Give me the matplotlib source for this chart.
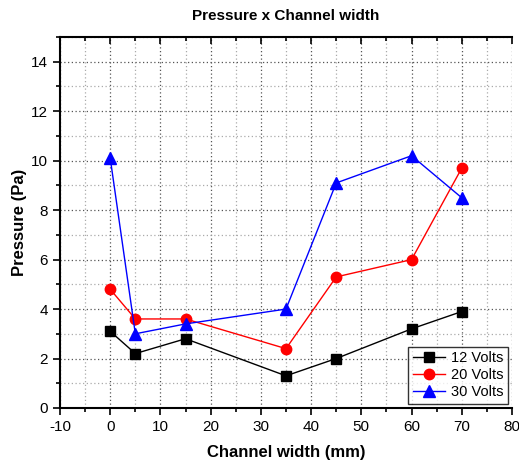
import matplotlib
matplotlib.use("Agg")
import matplotlib.pyplot as plt
from matplotlib.ticker import MultipleLocator

x = [0, 5, 15, 35, 45, 60, 70]
v12 = [3.1, 2.2, 2.8, 1.3, 2.0, 3.2, 3.9]
v20 = [4.8, 3.6, 3.6, 2.4, 5.3, 6.0, 9.7]
v30 = [10.1, 3.0, 3.4, 4.0, 9.1, 10.2, 8.5]
labels = ["12 Volts", "20 Volts", "30 Volts"]

plt.rcParams['font.family'] = ['Liberation Sans', 'DejaVu Sans']
plt.rcParams['axes.unicode_minus'] = False

fig = plt.figure(figsize=(5.19, 4.65), dpi=100)
ax = fig.add_axes([0.1156, 0.1226, 0.8709, 0.7978])

ax.plot(x, v12, color='black', marker='s', markersize=6.5, lw=1, label=labels[0], zorder=3)
ax.plot(x, v20, color='red', marker='o', markersize=7.5, lw=1, label=labels[1], zorder=3)
ax.plot(x, v30, color='blue', marker='^', markersize=8, lw=1, label=labels[2], zorder=3)

ax.set_xlim(-10, 80)
ax.set_ylim(0, 15)
ax.xaxis.set_major_locator(MultipleLocator(10))
ax.xaxis.set_minor_locator(MultipleLocator(5))
ax.yaxis.set_major_locator(MultipleLocator(2))
ax.yaxis.set_minor_locator(MultipleLocator(1))
ax.grid(which='major', color='#555555', linestyle=(0, (1, 2)), lw=0.9)
ax.grid(which='minor', color='#aaaaaa', linestyle=(0, (1, 2)), lw=0.9)
ax.set_axisbelow(True)

ax.spines['right'].set_visible(False)
for s in ['left', 'bottom', 'top']:
    ax.spines[s].set_linewidth(1.5)
ax.tick_params(which='both', direction='out', width=1.2, labelsize=11)
ax.tick_params(which='major', length=5)
ax.tick_params(which='minor', length=3)
ax.tick_params(axis='x', which='both', top=True, direction='out')
for t in ax.xaxis.get_major_ticks() + ax.xaxis.get_minor_ticks():
    t.tick2line.set_marker(3)

ax.set_xlabel("Channel width (mm)", fontsize=12, fontweight='bold', labelpad=8)
ax.set_ylabel("Pressure (Pa)", fontsize=12, fontweight='bold', labelpad=3)
ax.set_title("Pressure x Channel width", fontsize=11, fontweight='bold', pad=12)

leg = ax.legend(loc='lower right', fontsize=10.5, frameon=True, fancybox=False,
                edgecolor='black', handlelength=2.2, borderpad=0.3, labelspacing=0.2,
                borderaxespad=0.3, handletextpad=0.4)
leg.get_frame().set_linewidth(1.0)

fig.savefig("out.png", dpi=100)
